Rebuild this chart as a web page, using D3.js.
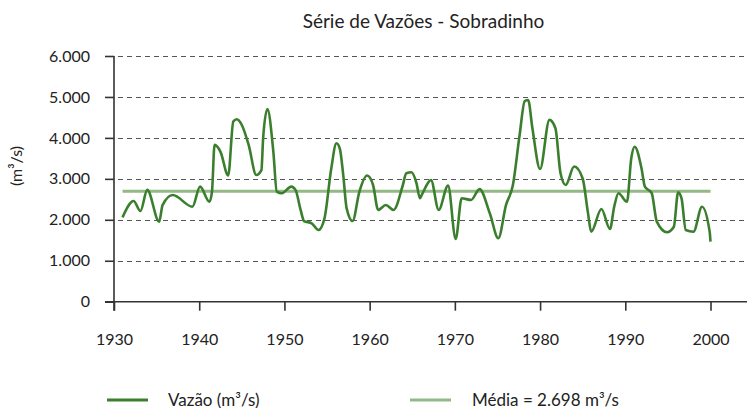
<!DOCTYPE html>
<html>
<head>
<meta charset="utf-8">
<script src="https://cdn.jsdelivr.net/npm/d3@7"></script>
<style>
  html, body { margin: 0; padding: 0; background: #fff; }
  svg { display: block; }
  text { font-family: Lato, "Open Sans", sans-serif; fill: #222; }
</style>
</head>
<body>
<svg id="chart" width="747" height="408"></svg>
<script>
// Sobradinho streamflow series (m³/s), sampled along the hydrograph
const years = [
  1931.0, 1932.3, 1933.1, 1933.9, 1935.3, 1935.7, 1936.9, 1939.2, 1940.1, 1941.2,
  1941.5, 1941.8, 1942.5, 1943.4, 1944.0, 1944.4, 1945.0, 1945.8, 1946.7, 1947.3,
  1947.5, 1948.0, 1948.7, 1949.1, 1949.7, 1950.8, 1951.3, 1951.9, 1952.3, 1953.2,
  1954.0, 1954.7, 1955.5, 1956.1, 1956.5, 1956.9, 1957.3, 1958.0, 1958.8, 1959.7,
  1960.4, 1961.0, 1961.9, 1962.8, 1963.9, 1964.3, 1964.9, 1965.5, 1965.9, 1966.1,
  1967.2, 1968.1, 1969.2, 1970.1, 1970.8, 1971.9, 1972.9, 1974.1, 1975.1, 1976.0,
  1976.8, 1977.6, 1978.2, 1978.6, 1979.1, 1980.0, 1981.1, 1981.8, 1982.4, 1983.0,
  1984.0, 1985.0, 1985.6, 1986.0, 1987.2, 1988.2, 1988.7, 1989.2, 1990.2, 1990.7,
  1991.1, 1991.9, 1992.3, 1993.1, 1993.7, 1994.9, 1995.7, 1996.2, 1996.6, 1997.1,
  1998.0, 1999.0, 1999.9, 2000.0
];
const flows = [
  2060, 2460, 2215, 2730, 1955, 2360, 2605, 2320, 2810, 2440,
  2690, 3830, 3660, 3080, 4400, 4455, 4315, 3830, 3095, 3215,
  3990, 4705, 3660, 2690, 2650, 2810, 2730, 2240, 1970, 1915,
  1750, 2035, 3260, 3870, 3740, 3095, 2280, 1970, 2690, 3080,
  2850, 2240, 2360, 2240, 2850, 3135, 3160, 2890, 2525, 2600,
  2970, 2240, 2835, 1530, 2525, 2485, 2750, 2160, 1550, 2360,
  2835, 4070, 4900, 4925, 4235, 3240, 4440, 4235, 3135, 2850,
  3300, 3010, 2200, 1710, 2265, 1775, 2320, 2650, 2440, 3500,
  3785, 3260, 2810, 2650, 1955, 1695, 1830, 2670, 2525, 1750,
  1710, 2320, 1710, 1465
];
const meanFlow = 2698;
const meanSpan = [1931, 2000];
const xTicks = [1930, 1940, 1950, 1960, 1970, 1980, 1990, 2000];
const yTicks = [0, 1000, 2000, 3000, 4000, 5000, 6000];
const title = "Série de Vazões - Sobradinho";
const yTitle = "(m³/s)";
const legendLabels = ["Vazão (m³/s)", "Média = 2.698 m³/s"];

const svg = d3.select("#chart");
const W = 747;

const x = d3.scaleLinear().domain([1930, 2000]).range([114, 710.5]);
const y = d3.scaleLinear().domain([0, 6000]).range([301.7, 56]);

const fmt = v => v === 0 ? "0" : d3.format(",")(v).replace(/,/g, ".");

// dashed horizontal gridlines
svg.append("g")
  .selectAll("line")
  .data(yTicks.filter(d => d > 0))
  .join("line")
  .attr("x1", x(1930) + 4).attr("x2", W)
  .attr("y1", d => Math.round(y(d)) + 0.5).attr("y2", d => Math.round(y(d)) + 0.5)
  .attr("stroke", "#555").attr("stroke-width", 1)
  .attr("stroke-dasharray", "5,4");

// y axis
const yAxis = svg.append("g")
  .attr("transform", `translate(${x(1930)},0)`)
  .call(d3.axisLeft(y).tickValues(yTicks).tickFormat(fmt).tickSize(9).tickPadding(15));
yAxis.select(".domain").remove();
yAxis.append("line")
  .attr("x1", 0).attr("x2", 0).attr("y1", y(6000)).attr("y2", y(0) + 9)
  .attr("stroke", "#333").attr("stroke-width", 1.6);
yAxis.selectAll(".tick line").attr("stroke", "#333").attr("stroke-width", 1.6);
yAxis.selectAll(".tick text").attr("font-size", 16).attr("fill", "#222")
  .attr("font-family", "Lato, sans-serif");

// x axis
const xAxis = svg.append("g")
  .attr("transform", `translate(0,${y(0)})`)
  .call(d3.axisBottom(x).tickValues(xTicks).tickFormat(d3.format("d")).tickSize(9).tickPadding(23));
xAxis.select(".domain").remove();
xAxis.append("line")
  .attr("x1", x(1930) - 9).attr("x2", W).attr("y1", 0).attr("y2", 0)
  .attr("stroke", "#333").attr("stroke-width", 1.6);
xAxis.selectAll(".tick line").attr("stroke", "#333").attr("stroke-width", 1.6);
xAxis.selectAll(".tick text").attr("font-size", 16).attr("fill", "#222")
  .attr("font-family", "Lato, sans-serif");

// mean line
const meanColor = "#93b985";
const flowColor = "#3b7f2e";
svg.append("line")
  .attr("x1", x(meanSpan[0])).attr("x2", x(meanSpan[1]))
  .attr("y1", y(meanFlow)).attr("y2", y(meanFlow))
  .attr("stroke", meanColor).attr("stroke-width", 3);

// flow series
const series = years.map((yr, i) => ({ yr, v: flows[i] }));
svg.append("path")
  .datum(series)
  .attr("fill", "none")
  .attr("stroke", flowColor)
  .attr("stroke-width", 2.6)
  .attr("stroke-linejoin", "round")
  .attr("d", d3.line().x(d => x(d.yr)).y(d => y(d.v)).curve(d3.curveMonotoneX));

// title
svg.append("text")
  .attr("x", 423.5).attr("y", 28)
  .attr("text-anchor", "middle")
  .attr("font-size", 19)
  .text(title);

// y axis title
svg.append("text")
  .attr("transform", "translate(22,166) rotate(-90)")
  .attr("text-anchor", "middle")
  .attr("font-size", 16)
  .text(yTitle);

// legend
const legend = svg.append("g");
const items = [
  { label: legendLabels[0], color: flowColor, x0: 107, tx: 168 },
  { label: legendLabels[1], color: meanColor, x0: 410, tx: 472 }
];
items.forEach(it => {
  legend.append("line")
    .attr("x1", it.x0).attr("x2", it.x0 + 41)
    .attr("y1", 400).attr("y2", 400)
    .attr("stroke", it.color).attr("stroke-width", 3);
  legend.append("text")
    .attr("x", it.tx).attr("y", 405.5)
    .attr("font-size", 17)
    .text(it.label);
});
</script>
</body>
</html>
